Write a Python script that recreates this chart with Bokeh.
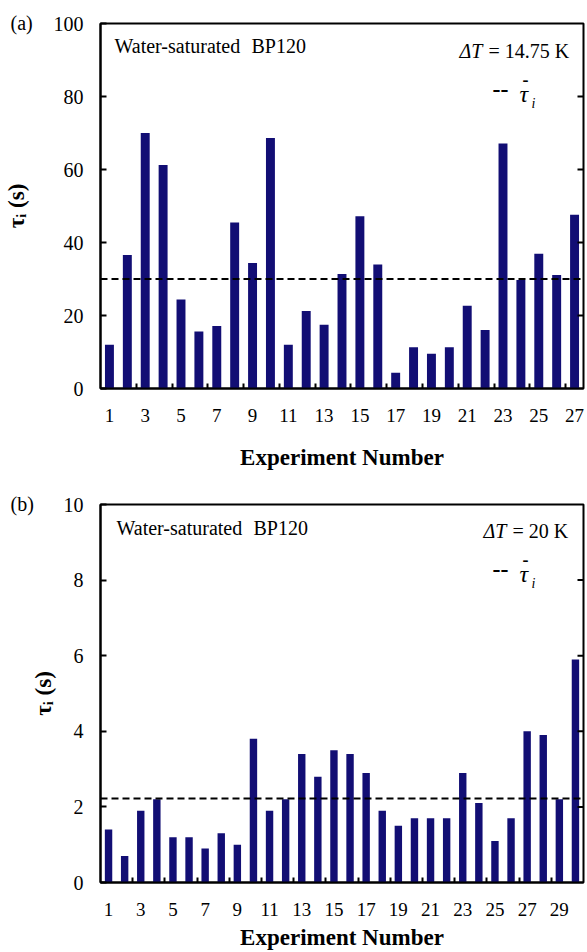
from bokeh.embed import file_html
from bokeh.layouts import column
from bokeh.models import FixedTicker, Label, Range1d
from bokeh.plotting import figure
from bokeh.resources import INLINE

SERIF = "Liberation Serif"
BAR_COLOR = "#120E74"

# ---- panel (a): dT = 14.75 K ----
exp_a = list(range(1, 28))
tau_a = [12.0, 36.6, 70.0, 61.2, 24.4, 15.6, 17.1, 45.5, 34.4, 68.6,
         12.0, 21.2, 17.5, 31.4, 47.2, 34.0, 4.3, 11.3, 9.5, 11.3,
         22.7, 16.0, 67.1, 29.7, 36.9, 31.1, 47.6]
mean_a = 30.0
yticks_a = [0, 20, 40, 60, 80, 100]
xlabels_a = [1, 3, 5, 7, 9, 11, 13, 15, 17, 19, 21, 23, 25, 27]
dt_a = "= 14.75 K"

# ---- panel (b): dT = 20 K ----
exp_b = list(range(1, 31))
tau_b = [1.4, 0.7, 1.9, 2.2, 1.2, 1.2, 0.9, 1.3, 1.0, 3.8,
         1.9, 2.2, 3.4, 2.8, 3.5, 3.4, 2.9, 1.9, 1.5, 1.7,
         1.7, 1.7, 2.9, 2.1, 1.1, 1.7, 4.0, 3.9, 2.2, 5.9]
mean_b = 2.22
yticks_b = [0, 2, 4, 6, 8, 10]
xlabels_b = [1, 3, 5, 7, 9, 11, 13, 15, 17, 19, 21, 23, 25, 27, 29]
dt_b = "= 20 K"

Y_TITLE = "\u03c4\u1d62 (s)"


def text_label(text, x, y, size, style="normal", align="left", baseline="middle"):
    return Label(x=x, y=y, x_units="screen", y_units="screen", text=text,
                 text_font=SERIF, text_font_size=size, text_font_style=style,
                 text_color="black", text_align=align, text_baseline=baseline)


def make_panel(tag, exp, tau, tau_mean, yticks, xlabels, dt_text, cfg):
    W, H = 587, cfg["H"]
    left, right, top, bottom = cfg["borders"]
    frame_h = H - top - bottom

    p = figure(width=W, height=H, output_backend="svg", toolbar_location=None,
               title=None,
               x_range=Range1d(exp[0] - 0.5, exp[-1] + 0.5),
               y_range=Range1d(yticks[0], yticks[-1]),
               min_border_left=left, min_border_right=right,
               min_border_top=top, min_border_bottom=bottom)
    p.grid.visible = False
    p.background_fill_color = "white"
    p.border_fill_color = "white"
    p.outline_line_color = "black"
    p.outline_line_width = 2
    p.outline_line_alpha = 1.0

    p.vbar(x=exp, top=tau, width=cfg["bar_w"], fill_color=BAR_COLOR, line_color=None)
    p.line(x=[exp[0] - 0.5, exp[-1] + 0.5], y=[tau_mean, tau_mean],
           line_color="black", line_width=2, line_dash="7 4")

    # inward tick marks on the right-hand frame edge
    inner = yticks[1:-1]
    p.scatter(x=[exp[-1] + 0.5] * len(inner), y=inner, marker="dash", size=12,
              line_color="black", line_width=2)

    # x axis: labels on odd experiments, inward marks between category pairs
    xa = p.xaxis[0]
    xa.ticker = FixedTicker(ticks=xlabels,
                            minor_ticks=[k + 1.5 for k in xlabels if k + 1.5 < exp[-1] + 0.5])
    xa.major_tick_line_color = None
    xa.minor_tick_in = 5
    xa.minor_tick_out = 0
    xa.minor_tick_line_width = 2
    xa.minor_tick_line_color = "black"
    xa.axis_line_width = 2
    xa.axis_line_color = "black"
    xa.major_label_text_font = SERIF
    xa.major_label_text_font_size = "19px"
    xa.major_label_text_color = "black"
    xa.major_label_standoff = cfg["xtick_standoff"]
    xa.axis_label = "Experiment Number"
    xa.axis_label_text_font = SERIF
    xa.axis_label_text_font_style = "bold"
    xa.axis_label_text_font_size = "23px"
    xa.axis_label_text_color = "black"
    xa.axis_label_standoff = cfg["xlabel_standoff"]

    ya = p.yaxis[0]
    ya.ticker = FixedTicker(ticks=yticks, minor_ticks=[])
    ya.major_tick_in = 6
    ya.major_tick_out = 0
    ya.major_tick_line_width = 2
    ya.minor_tick_line_color = None
    ya.minor_tick_out = 0
    ya.axis_line_width = 2
    ya.axis_line_color = "black"
    ya.major_label_text_font = SERIF
    ya.major_label_text_font_size = "20px"
    ya.major_label_text_color = "black"
    ya.major_label_standoff = 17
    ya.axis_label = Y_TITLE
    ya.axis_label_text_font = SERIF
    ya.axis_label_text_font_style = "bold"
    ya.axis_label_text_font_size = "23px"
    ya.axis_label_text_color = "black"
    ya.axis_label_standoff = cfg["ylabel_standoff"]

    # panel tag, drawn in the strip above the frame (left of the frame edge)
    p.add_layout(text_label(tag, 9 - left, 1, "20px"), "above")

    # annotations inside the frame; px is a page x, dy is measured down from the frame top
    def put(text, px, dy, size, style="normal"):
        p.add_layout(text_label(text, px - left, frame_h - dy, size, style))

    put("Water-saturated", cfg["ws_x"], cfg["ws_dy"], "20px")
    put("BP120", cfg["ws_x"] + 137, cfg["ws_dy"], "20px")
    put("\u0394T", cfg["dt_x"], 27, "20px", "italic")
    put(dt_text, cfg["dt_x"] + 29, 27, "20px")

    # mean-value key: dashes, tau with an overbar and subscript i
    put("--", 491, 66, "24px", "bold")
    put("\u03c4", 518, 70, "24px", "italic")
    put("-", 521, 56, "18px", "bold")
    put("i", 530, 80, "14px", "italic")
    return p


cfg_a = dict(H=480, borders=(99, 4, 23, 92), bar_w=0.5,
             xtick_standoff=14, xlabel_standoff=20, ylabel_standoff=22,
             ws_x=113, ws_dy=22, dt_x=458)
cfg_b = dict(H=472, borders=(99, 1, 24, 69), bar_w=0.46,
             xtick_standoff=14, xlabel_standoff=6, ylabel_standoff=5,
             ws_x=115, ws_dy=24, dt_x=482)

p_a = make_panel("(a)", exp_a, tau_a, mean_a, yticks_a, xlabels_a, dt_a, cfg_a)
p_b = make_panel("(b)", exp_b, tau_b, mean_b, yticks_b, xlabels_b, dt_b, cfg_b)

layout = column(p_a, p_b, spacing=0)
open("out.html", "w").write(file_html(layout, INLINE))
